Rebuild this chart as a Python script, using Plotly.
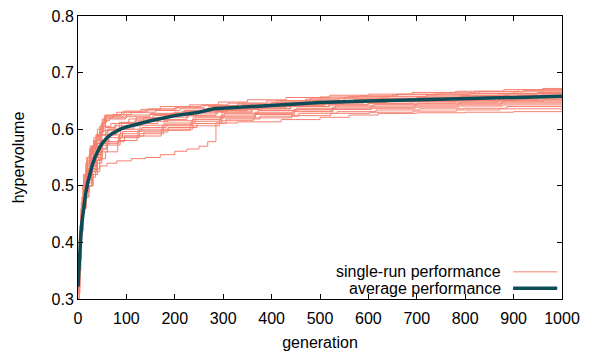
import plotly.graph_objects as go

# ---------------- data ----------------
run_generations = [
    [0,3,7,12,18,25,33,42,48,55,80,130,170,230,290,350,430,520,600,690,780,880,960,1000],
    [0,2,6,10,16,24,32,40,50,58,90,140,200,260,330,410,480,560,650,740,820,910,1000],
    [0,4,8,13,20,27,36,44,52,65,100,150,220,280,340,420,500,580,660,750,830,920,1000],
    [0,3,6,11,17,23,30,38,46,54,72,110,160,210,270,330,400,470,550,640,720,810,900,1000],
    [0,2,5,9,14,21,29,37,47,60,85,120,180,240,300,370,450,530,620,710,790,870,950,1000],
    [0,3,7,12,19,26,34,43,50,57,95,145,205,255,310,390,470,540,630,720,800,890,1000],
    [0,2,6,11,17,24,31,40,49,62,90,135,190,250,310,380,460,540,620,700,790,880,960,1000],
    [0,4,8,12,19,26,35,45,53,68,105,155,215,275,340,410,490,570,660,740,830,910,1000],
    [0,3,6,10,15,21,28,37,46,58,80,115,165,225,285,350,430,510,590,680,770,860,940,1000],
    [0,2,5,9,15,22,30,39,48,57,75,125,185,245,305,375,455,535,615,705,795,885,1000],
    [0,3,7,12,18,25,33,42,51,63,88,128,178,238,298,360,440,520,600,690,780,870,950,1000],
    [0,4,8,13,20,28,37,45,51,59,98,148,198,258,318,388,468,548,638,728,818,908,1000],
    [0,2,6,10,16,23,31,40,50,64,92,132,182,242,302,372,452,532,612,702,792,882,962,1000],
    [0,3,7,11,17,24,32,41,49,56,78,118,168,228,288,358,438,518,598,688,778,868,1000],
    [0,3,6,10,16,22,30,38,47,60,86,126,176,236,296,366,446,526,606,696,786,876,1000],
    [0,2,5,9,14,20,27,36,46,58,84,124,174,234,294,364,444,524,604,694,784,874,1000],
    [0,3,7,11,17,23,31,40,49,61,87,127,177,237,297,367,447,527,607,697,787,877,1000],
    [0,2,6,10,15,22,29,38,48,62,96,136,186,246,306,376,456,536,616,706,796,886,1000],
    [0,3,6,11,16,21,28,36,45,57,82,122,172,232,292,362,442,522,602,692,782,872,1000],
    [0,3,6,10,15,20,30,45,60,80,110,140,170,200,225,250,268,285,330,420,500,560,620,700,800,900,1000],
]
run_hypervolumes = [
    [0.33,0.40,0.47,0.52,0.55,0.57,0.585,0.59,0.61,0.625,0.630,0.635,0.640,0.643,0.648,0.652,0.656,0.660,0.662,0.665,0.667,0.670,0.672,0.672],
    [0.32,0.37,0.45,0.50,0.54,0.565,0.58,0.60,0.618,0.624,0.630,0.634,0.638,0.642,0.646,0.650,0.655,0.658,0.661,0.664,0.667,0.670,0.670],
    [0.31,0.40,0.46,0.51,0.54,0.56,0.58,0.595,0.615,0.620,0.625,0.628,0.633,0.639,0.643,0.650,0.657,0.659,0.662,0.664,0.666,0.668,0.668],
    [0.33,0.41,0.46,0.50,0.53,0.555,0.57,0.59,0.605,0.620,0.626,0.630,0.633,0.636,0.640,0.643,0.647,0.651,0.655,0.658,0.661,0.663,0.666,0.666],
    [0.32,0.36,0.42,0.47,0.51,0.53,0.55,0.57,0.59,0.600,0.612,0.620,0.627,0.632,0.638,0.642,0.647,0.651,0.654,0.657,0.660,0.662,0.665,0.665],
    [0.33,0.41,0.47,0.52,0.545,0.565,0.58,0.59,0.605,0.622,0.632,0.636,0.640,0.643,0.646,0.650,0.653,0.655,0.657,0.659,0.660,0.663,0.663],
    [0.31,0.37,0.44,0.49,0.52,0.54,0.56,0.575,0.59,0.600,0.612,0.620,0.628,0.632,0.636,0.640,0.647,0.650,0.653,0.656,0.658,0.660,0.662,0.662],
    [0.32,0.42,0.47,0.51,0.535,0.555,0.575,0.595,0.605,0.610,0.618,0.624,0.631,0.637,0.641,0.645,0.649,0.652,0.654,0.656,0.658,0.660,0.660],
    [0.30,0.38,0.44,0.48,0.50,0.51,0.53,0.555,0.575,0.590,0.600,0.610,0.617,0.624,0.633,0.638,0.642,0.646,0.649,0.652,0.654,0.656,0.659,0.659],
    [0.32,0.38,0.43,0.48,0.51,0.53,0.55,0.575,0.590,0.598,0.606,0.614,0.624,0.630,0.635,0.640,0.644,0.648,0.651,0.653,0.655,0.657,0.657],
    [0.31,0.39,0.45,0.49,0.51,0.525,0.545,0.560,0.580,0.590,0.600,0.607,0.615,0.622,0.630,0.636,0.640,0.643,0.646,0.649,0.651,0.653,0.655,0.655],
    [0.33,0.43,0.48,0.52,0.55,0.57,0.59,0.605,0.612,0.618,0.622,0.626,0.630,0.634,0.637,0.641,0.645,0.647,0.649,0.650,0.651,0.653,0.653],
    [0.30,0.35,0.42,0.46,0.49,0.50,0.52,0.545,0.575,0.585,0.596,0.603,0.611,0.620,0.628,0.633,0.637,0.641,0.644,0.646,0.648,0.650,0.652,0.652],
    [0.32,0.40,0.46,0.50,0.53,0.545,0.565,0.580,0.597,0.603,0.610,0.616,0.621,0.627,0.632,0.636,0.640,0.643,0.645,0.646,0.648,0.650,0.650],
    [0.31,0.38,0.43,0.47,0.49,0.505,0.525,0.545,0.565,0.578,0.592,0.600,0.608,0.617,0.625,0.630,0.635,0.639,0.641,0.643,0.645,0.648,0.648],
    [0.31,0.36,0.41,0.46,0.49,0.515,0.535,0.550,0.565,0.575,0.588,0.597,0.606,0.614,0.622,0.628,0.632,0.636,0.639,0.641,0.643,0.646,0.646],
    [0.30,0.37,0.43,0.46,0.48,0.50,0.52,0.540,0.560,0.572,0.585,0.592,0.600,0.610,0.620,0.626,0.631,0.635,0.637,0.639,0.641,0.643,0.643],
    [0.32,0.37,0.44,0.48,0.51,0.52,0.535,0.555,0.572,0.578,0.588,0.595,0.603,0.610,0.618,0.623,0.628,0.631,0.634,0.636,0.637,0.640,0.640],
    [0.30,0.38,0.42,0.46,0.48,0.50,0.515,0.530,0.548,0.560,0.580,0.588,0.598,0.606,0.615,0.620,0.624,0.628,0.630,0.632,0.634,0.636,0.636],
    [0.31,0.38,0.43,0.47,0.50,0.515,0.525,0.535,0.540,0.544,0.548,0.550,0.555,0.561,0.565,0.570,0.578,0.611,0.613,0.617,0.621,0.625,0.628,0.629,0.630,0.631,0.632],
]
avg_generations = [0,2,4,6,8,10,13,16,20,25,30,35,40,45,50,60,70,80,90,100,120,150,200,250,280,300,350,400,450,500,600,700,800,900,1000]
avg_hypervolume = [0.322,0.36,0.39,0.415,0.435,0.45,0.47,0.487,0.505,0.523,0.538,0.550,0.560,0.568,0.575,0.585,0.592,0.597,0.601,0.604,0.609,0.615,0.624,0.630,0.636,0.637,0.640,0.642,0.645,0.647,0.650,0.652,0.655,0.657,0.658]

x_ticks = [0, 100, 200, 300, 400, 500, 600, 700, 800, 900, 1000]
y_ticks = [0.3, 0.4, 0.5, 0.6, 0.7, 0.8]
legend_labels = ["single-run performance", "average performance"]

RUN_COLOR = "#F6806F"
AVG_COLOR = "#0B4C58"
FONT = "Liberation Sans, Arial, Helvetica, sans-serif"
FS = 16

fig = go.Figure()
for g, v in zip(run_generations, run_hypervolumes):
    fig.add_trace(go.Scatter(x=g, y=v, mode="lines", line=dict(color=RUN_COLOR, width=1, shape="hv"),
                             showlegend=False, hoverinfo="skip"))
fig.add_trace(go.Scatter(x=avg_generations, y=avg_hypervolume, mode="lines",
                         line=dict(color=AVG_COLOR, width=3.5), showlegend=False))

# gnuplot-style legend: text on the left, sample line on the right
legend_rows_y = [0.096, 0.038]
legend_styles = [dict(color=RUN_COLOR, width=1), dict(color=AVG_COLOR, width=3.5)]
for label, ly, st in zip(legend_labels, legend_rows_y, legend_styles):
    fig.add_annotation(x=0.878, y=ly, xref="paper", yref="paper", text=label, showarrow=False,
                       xanchor="right", yanchor="middle", font=dict(family=FONT, size=FS, color="black"))
    fig.add_shape(type="line", xref="paper", yref="paper", x0=0.899, x1=0.990, y0=ly, y1=ly, line=st)

axis_common = dict(showline=True, linecolor="black", linewidth=1, mirror="allticks", ticks="inside",
                   ticklen=5, tickcolor="black", showgrid=False, zeroline=False,
                   ticklabeloverflow="allow",
                   tickfont=dict(family=FONT, size=FS, color="black"))
fig.update_xaxes(range=[0, 1000], tickvals=x_ticks, ticktext=[str(t) for t in x_ticks],
                 ticklabelstandoff=5,
                 title=dict(text="generation", font=dict(family=FONT, size=FS, color="black"), standoff=10),
                 **axis_common)
fig.update_yaxes(range=[0.3, 0.8], tickvals=y_ticks, ticktext=[f"{t:.1f}" for t in y_ticks],
                 title=dict(text="hypervolume", font=dict(family=FONT, size=FS, color="black"), standoff=22),
                 **axis_common)
fig.update_layout(width=597, height=357, margin=dict(l=78, r=35, t=8, b=58),
                  plot_bgcolor="white", paper_bgcolor="white", font=dict(family=FONT))
fig.write_html("out.html")
